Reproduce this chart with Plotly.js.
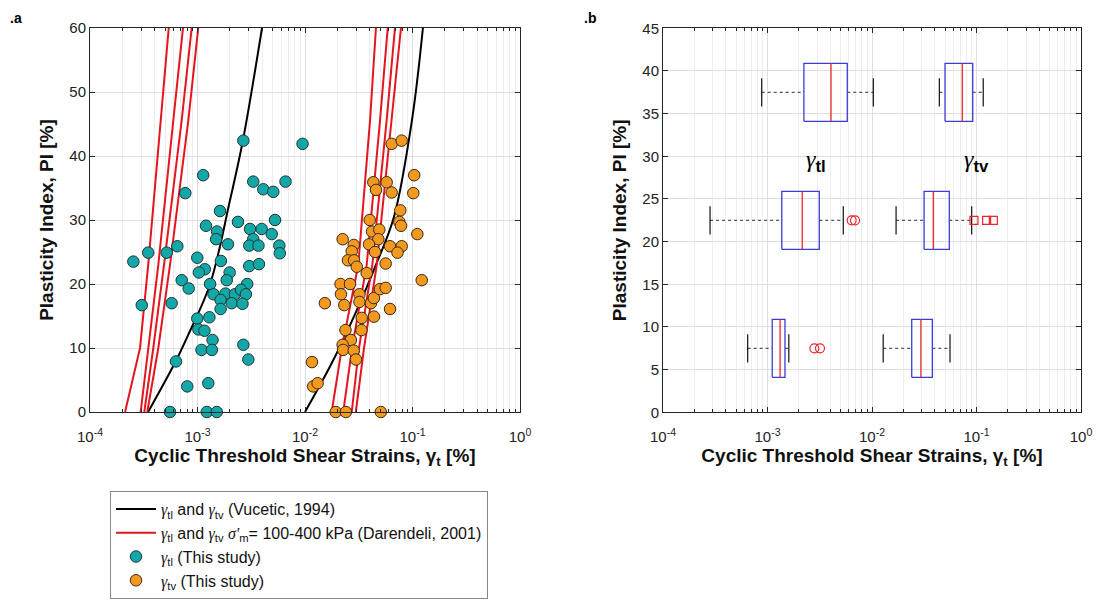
<!DOCTYPE html>
<html><head><meta charset="utf-8">
<script src="https://cdn.plot.ly/plotly-3.0.1.min.js"></script>
<style>html,body{margin:0;padding:0;background:#fff}#chart{width:1105px;height:610px}</style>
</head><body><div id="chart"></div>
<script>
// ---------- Panel a: Vucetic (1994) curves ----------
const vucPI_tl = [0, 8, 12, 20, 33, 42.5, 60];
const vucTl    = [3.47e-4, 6.31e-4, 8.17e-4, 1.31e-3, 2.00e-3, 2.65e-3, 3.98e-3];
const vucPI_tv = [0, 8, 16, 23, 30.5, 45.6, 60];
const vucTv    = [0.0100, 0.0182, 0.0305, 0.0457, 0.0673, 0.0989, 0.125];

// ---------- Panel a: Darendeli (2001) curves, sigma'm = 100..400 kPa ----------
const darPI     = [0, 10, 23, 45.6, 60];
const darTl_100 = [2.12e-4, 2.92e-4, 3.48e-4, 4.54e-4, 5.40e-4];
const darTl_200 = [2.96e-4, 3.48e-4, 4.32e-4, 5.96e-4, 7.33e-4];
const darTl_300 = [3.20e-4, 3.88e-4, 4.88e-4, 7.13e-4, 8.83e-4];
const darTl_400 = [3.41e-4, 4.32e-4, 5.55e-4, 8.22e-4, 1.016e-3];
const darTv_100 = [0.0177, 0.0220, 0.0313, 0.0403, 0.0457];
const darTv_200 = [0.0227, 0.0274, 0.0375, 0.0499, 0.0588];
const darTv_300 = [0.0272, 0.0318, 0.0423, 0.0575, 0.0687];
const darTv_400 = [0.0297, 0.0354, 0.0465, 0.0641, 0.0781];

// ---------- Panel a: this study ----------
const tlGamma = [2.67e-3, 9.49e-3, 1.13e-3, 7.70e-4, 3.30e-3, 4.09e-3, 5.07e-3, 6.59e-3, 1.62e-3, 5.26e-3,
  2.38e-3, 1.20e-3, 1.52e-3, 3.08e-3, 3.95e-3, 4.90e-3, 1.49e-3, 3.30e-3, 1.92e-3, 3.03e-3,
  3.69e-3, 5.77e-3, 5.83e-3, 2.53e-4, 3.48e-4, 5.17e-4, 6.49e-4, 9.95e-4, 1.65e-3, 3.03e-3,
  3.73e-3, 1.17e-3, 1.03e-3, 1.99e-3, 7.13e-4, 8.28e-4, 1.31e-3, 1.87e-3, 2.90e-3, 1.41e-3,
  1.82e-3, 2.23e-3, 2.54e-3, 2.82e-3, 1.64e-3, 2.08e-3, 2.62e-3, 1.64e-3, 3.03e-4, 5.75e-4,
  9.95e-4, 1.29e-3, 1.02e-3, 1.16e-3, 1.38e-3, 1.09e-3, 1.36e-3, 2.67e-3, 2.97e-3, 6.31e-4,
  8.03e-4, 1.26e-3, 5.55e-4, 1.22e-3, 1.51e-3];
const tlPI = [42.4, 41.9, 37.0, 34.2, 36.0, 34.8, 34.4, 36.0, 31.4, 30.0,
  29.7, 29.1, 28.2, 28.6, 28.6, 27.8, 27.0, 27.0, 26.2, 26.0,
  26.0, 26.0, 24.8, 23.5, 24.9, 24.9, 25.9, 24.1, 23.6, 22.8,
  23.1, 22.3, 21.8, 21.8, 20.6, 19.3, 20.0, 20.6, 20.0, 18.4,
  18.5, 18.4, 19.1, 18.4, 17.5, 17.0, 16.9, 16.1, 16.7, 17.0,
  14.6, 14.8, 12.9, 12.7, 11.25, 9.7, 9.7, 10.5, 8.2, 7.9,
  4.0, 4.5, 0, 0, 0];
const tvGamma = [0.0640, 0.0793, 0.0432, 0.0575, 0.0458, 0.0640, 0.1037, 0.1017, 0.0770, 0.0754,
  0.0782, 0.1109, 0.0400, 0.0420, 0.0491, 0.0481, 0.0394, 0.0448, 0.0224, 0.0284,
  0.0272, 0.0251, 0.0286, 0.0303, 0.0618, 0.0793, 0.0725, 0.0563, 0.0375, 0.1218,
  0.0214, 0.0262, 0.0216, 0.0153, 0.0232, 0.0321, 0.0321, 0.0411, 0.0437, 0.0498,
  0.0563, 0.0618, 0.0337, 0.0438, 0.0238, 0.0335, 0.0267, 0.0224, 0.0226, 0.0284,
  0.0298, 0.0116, 0.0119, 0.0131, 0.0193, 0.0240, 0.0507];
const tvPI = [41.9, 42.4, 35.9, 35.9, 34.7, 34.3, 37.0, 34.2, 31.5, 29.7,
  29.1, 27.8, 30.0, 28.2, 28.5, 27.0, 26.2, 25.0, 27.0, 26.1,
  25.1, 23.7, 23.7, 22.7, 25.9, 25.9, 24.9, 23.2, 21.7, 20.6,
  20.0, 20.0, 18.4, 17.0, 16.7, 18.4, 17.2, 17.0, 17.8, 19.2,
  19.4, 16.1, 14.7, 14.9, 12.8, 12.8, 11.25, 10.5, 9.7, 9.6,
  8.2, 7.8, 4.0, 4.5, 0, 0, 0];

// ---------- Panel b: box plot statistics ----------
const boxPI     = [7.5, 22.5, 37.5];
const tlWhiskLo = [6.46e-4, 2.82e-4, 8.80e-4];
const tlQ1      = [1.11e-3, 1.37e-3, 2.23e-3];
const tlMed     = [1.32e-3, 2.15e-3, 4.05e-3];
const tlQ3      = [1.47e-3, 3.13e-3, 5.80e-3];
const tlWhiskHi = [1.60e-3, 5.31e-3, 0.0103];
const tlOutG    = [2.81e-3, 3.18e-3, 6.39e-3, 6.88e-3];
const tlOutPI   = [7.5, 7.5, 22.5, 22.5];
const tvWhiskLo = [0.0128, 0.0170, 0.0441];
const tvQ1      = [0.0240, 0.0315, 0.0500];
const tvMed     = [0.0294, 0.0386, 0.0731];
const tvQ3      = [0.0378, 0.0549, 0.0920];
const tvWhiskHi = [0.0558, 0.0899, 0.116];
const tvOutG    = [0.0946, 0.125, 0.145];
const tvOutPI   = [22.5, 22.5, 22.5];

// ---------- tick labels ----------
const xTickVals = [1e-4, 1e-3, 1e-2, 1e-1, 1];
const xTickText = ['10<sup>-4</sup>', '10<sup>-3</sup>', '10<sup>-2</sup>', '10<sup>-1</sup>', '10<sup>0</sup>'];

// ---------- styling ----------
const W = 1105, H = 610;
const FONT = 'Liberation Sans, Arial, sans-serif';
const RED = '#e3161f', CYAN = '#14a7a7', ORANGE = '#f3991f';
const BOXH = 3.4, CAPH = 1.65;
const G = '<span style="font-family:Liberation Serif"><i>γ</i></span>';
const SIG = "<span style=\"font-family:Liberation Serif\"><i>σ'</i></span>";

const minorVals = [];
for (let k = -4; k < 0; k++) for (let m = 2; m <= 9; m++) minorVals.push(m * Math.pow(10, k));

const traces = [];
traces.push({x: vucTl, y: vucPI_tl, type: 'scatter', mode: 'lines', line: {color: '#000', width: 2, shape: 'spline'},
  name: G + '<sub>tl</sub> and ' + G + '<sub>tv</sub> (Vucetic, 1994)'});
traces.push({x: vucTv, y: vucPI_tv, type: 'scatter', mode: 'lines', line: {color: '#000', width: 2, shape: 'spline'},
  showlegend: false});
const darSets = [darTl_100, darTl_200, darTl_300, darTl_400, darTv_100, darTv_200, darTv_300, darTv_400];
darSets.forEach((g, i) => {
  traces.push({x: g, y: darPI, type: 'scatter', mode: 'lines', line: {color: RED, width: 2},
    name: G + '<sub>tl</sub> and ' + G + '<sub>tv</sub> ' + SIG + '<sub>m</sub>= 100-400 kPa (Darendeli, 2001)',
    showlegend: i === 0});
});
traces.push({x: tlGamma, y: tlPI, type: 'scatter', mode: 'markers', cliponaxis: false,
  marker: {size: 11.5, color: CYAN, line: {color: '#1f3535', width: 1}},
  name: G + '<sub>tl</sub> (This study)'});
traces.push({x: tvGamma, y: tvPI, type: 'scatter', mode: 'markers', cliponaxis: false,
  marker: {size: 11.5, color: ORANGE, line: {color: '#3a2a12', width: 1}},
  name: G + '<sub>tv</sub> (This study)'});

function addBoxes(lo, q1, med, q3, hi) {
  const bx = [], by = [], mx = [], my = [], wx = [], wy = [], cx = [], cy = [];
  for (let i = 0; i < boxPI.length; i++) {
    const p = boxPI[i];
    bx.push(q1[i], q3[i], q3[i], q1[i], q1[i], null);
    by.push(p - BOXH, p - BOXH, p + BOXH, p + BOXH, p - BOXH, null);
    mx.push(med[i], med[i], null); my.push(p - BOXH, p + BOXH, null);
    wx.push(lo[i], q1[i], null, q3[i], hi[i], null); wy.push(p, p, null, p, p, null);
    cx.push(lo[i], lo[i], null, hi[i], hi[i], null); cy.push(p - CAPH, p + CAPH, null, p - CAPH, p + CAPH, null);
  }
  const common = {type: 'scatter', mode: 'lines', xaxis: 'x2', yaxis: 'y2', showlegend: false, hoverinfo: 'skip'};
  traces.push(Object.assign({x: wx, y: wy, line: {color: '#555', width: 1.2, dash: '3px,3px'}}, common));
  traces.push(Object.assign({x: cx, y: cy, line: {color: '#111', width: 1.2}}, common));
  traces.push(Object.assign({x: bx, y: by, line: {color: '#3b3bd6', width: 1.3}}, common));
  traces.push(Object.assign({x: mx, y: my, line: {color: '#e8262c', width: 1.3}}, common));
}
addBoxes(tlWhiskLo, tlQ1, tlMed, tlQ3, tlWhiskHi);
addBoxes(tvWhiskLo, tvQ1, tvMed, tvQ3, tvWhiskHi);
traces.push({x: tlOutG, y: tlOutPI, type: 'scatter', mode: 'markers', xaxis: 'x2', yaxis: 'y2', showlegend: false,
  marker: {symbol: 'circle-open', size: 9, color: '#e8262c', line: {width: 1.2}}});
traces.push({x: tvOutG, y: tvOutPI, type: 'scatter', mode: 'markers', xaxis: 'x2', yaxis: 'y2', showlegend: false,
  marker: {symbol: 'square-open', size: 8, color: '#e8262c', line: {width: 1.2}}});

const axCommon = {
  showline: true, linecolor: '#262626', linewidth: 1, mirror: 'ticks', ticks: 'inside', ticklen: 5,
  tickcolor: '#262626', showgrid: true, gridcolor: '#dedede', gridwidth: 1, zeroline: false,
  tickfont: {family: FONT, size: 15, color: '#222'}, automargin: false
};
function xAxis(domain, anchor) {
  return Object.assign({}, axCommon, {
    type: 'log', range: [-4, 0], domain: domain, anchor: anchor,
    tickmode: 'array', tickvals: xTickVals, ticktext: xTickText, ticklabelstandoff: 11,
    minor: {tickmode: 'array', tickvals: minorVals, ticks: 'inside', ticklen: 3, tickcolor: '#262626',
      showgrid: true, gridcolor: '#eeeeee', gridwidth: 1},
    title: {text: '<b>Cyclic Threshold Shear Strains, γ<sub>t</sub> [%]</b>', standoff: 3,
      font: {family: FONT, size: 19, color: '#111'}}
  });
}
function yAxis(domain, anchor, rng, dt) {
  return Object.assign({}, axCommon, {
    range: rng, dtick: dt, tick0: 0, domain: domain, anchor: anchor,
    title: {text: '<b>Plasticity Index, PI [%]</b>', standoff: 10, font: {family: FONT, size: 19, color: '#111'}}
  });
}

const layout = {
  width: W, height: H, margin: {l: 0, r: 0, t: 0, b: 0},
  paper_bgcolor: '#fff', plot_bgcolor: '#fff',
  font: {family: FONT, size: 14, color: '#111'},
  xaxis: xAxis([90 / W, 520 / W], 'y'),
  yaxis: yAxis([1 - 412 / H, 1 - 28 / H], 'x', [0, 60], 10),
  xaxis2: xAxis([663 / W, 1081 / W], 'y2'),
  yaxis2: yAxis([1 - 412.3 / H, 1 - 28.3 / H], 'x2', [0, 45], 5),
  showlegend: true,
  legend: {x: 110 / W, y: 1 - 491 / H, xanchor: 'left', yanchor: 'top', bgcolor: '#fff',
    bordercolor: '#888', borderwidth: 1, font: {family: FONT, size: 16, color: '#111'},
    traceorder: 'normal', itemwidth: 40},
  annotations: [
    {text: '<b>.a</b>', xref: 'paper', yref: 'paper', x: 8 / W, y: 1 - 18 / H, xanchor: 'left', yanchor: 'middle',
      showarrow: false, font: {family: FONT, size: 14, color: '#000'}},
    {text: '<b>.b</b>', xref: 'paper', yref: 'paper', x: 582 / W, y: 1 - 18 / H, xanchor: 'left', yanchor: 'middle',
      showarrow: false, font: {family: FONT, size: 14, color: '#000'}},
    {text: '<span style="font-family:Liberation Serif"><i>γ</i></span><sub><b>tl</b></sub>', xref: 'x2', yref: 'y2',
      x: Math.log10(2.9e-3), y: 29.5, showarrow: false, font: {family: FONT, size: 24, color: '#000'}},
    {text: '<span style="font-family:Liberation Serif"><i>γ</i></span><sub><b>tv</b></sub>', xref: 'x2', yref: 'y2',
      x: Math.log10(0.1), y: 29.5, showarrow: false, font: {family: FONT, size: 24, color: '#000'}}
  ]
};

Plotly.newPlot('chart', traces, layout, {displayModeBar: false, staticPlot: true});
</script></body></html>
